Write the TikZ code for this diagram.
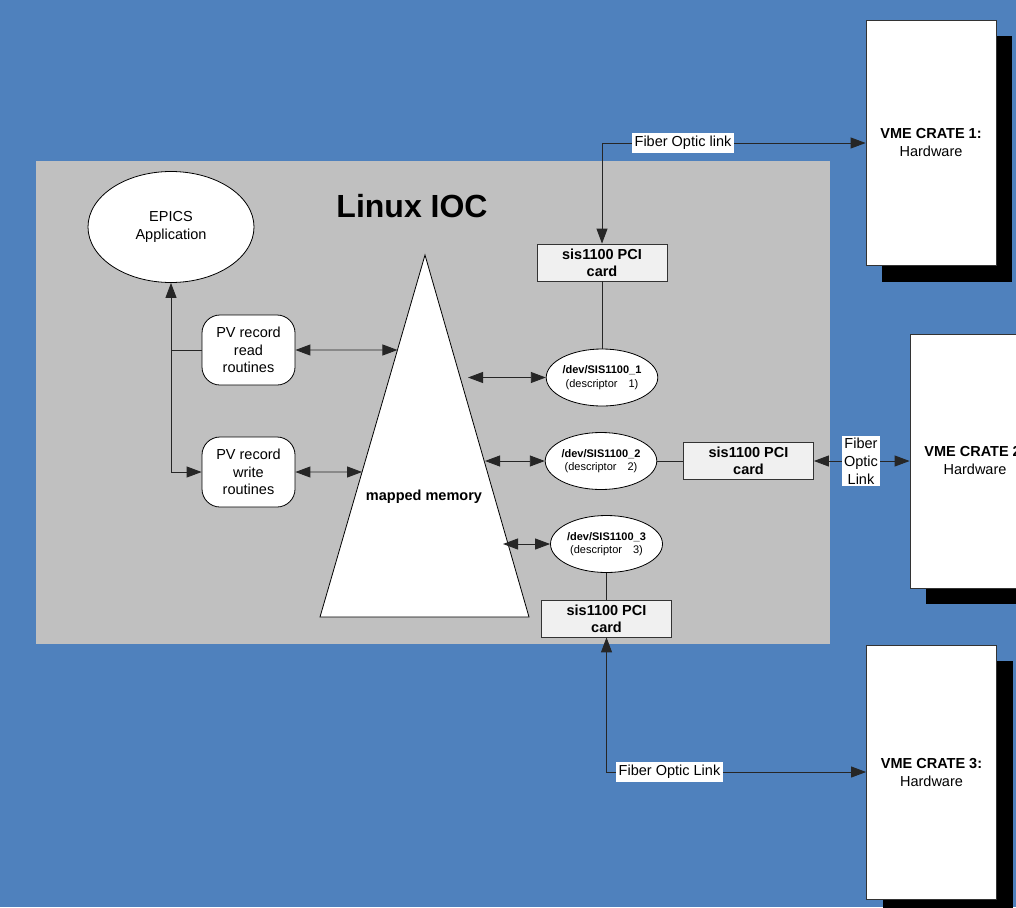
\documentclass[tikz,border=0pt]{standalone}
\usepackage{fontspec}
\setmainfont{Liberation Sans}
\usetikzlibrary{arrows.meta,shapes.geometric,shadows,calc}
\definecolor{bgblue}{HTML}{4F81BD}
\definecolor{iocgray}{HTML}{C0C0C0}
\definecolor{cardfill}{HTML}{F0F0F0}
\begin{document}
\begin{tikzpicture}[x=1pt,y=-1pt,
  txt/.style={font=\fontsize{14.5}{17.5}\selectfont, align=center},
  oval/.style={ellipse, draw=black, fill=white, line width=0.8pt, inner sep=0pt},
  pvbox/.style={draw=black, fill=white, rounded corners=18pt, minimum width=93pt, minimum height=70pt, txt, line width=0.8pt, inner sep=0pt},
  card/.style={draw=black!80, fill=cardfill, minimum width=130pt, minimum height=37pt, inner sep=0pt, font=\bfseries\fontsize{14.5}{16.7}\selectfont, align=center, line width=0.8pt},
  crate/.style={draw=black!80, fill=white, minimum width=130pt, inner sep=0pt, align=center, font=\fontsize{14.5}{18}\selectfont, drop shadow={shadow xshift=16pt, shadow yshift=-16pt, fill=black, opacity=1}, line width=0.8pt},
  lbl/.style={fill=white, inner xsep=2.5pt, inner ysep=3.5pt, font=\fontsize{14.5}{18}\selectfont, align=center},
  link/.style={line width=0.9pt, draw=black!85},
  tip/.tip={Triangle[length=15pt,width=11pt]},
  arr/.style={link, -tip},
  darr/.style={link, tip-tip},
  desc/.style={oval, minimum width=110pt, minimum height=57pt, align=center, font=\fontsize{11}{13.5}\selectfont}
]
\fill[bgblue] (0,0) rectangle (1016,907);
\useasboundingbox (0,0) rectangle (1016,907);
\clip (0,0) rectangle (1016,907);
\fill[iocgray] (36,161) rectangle (830,644);

\node[font=\bfseries\fontsize{32}{38}\selectfont] (title) at (412,206) {Linux IOC};

\node[oval, minimum width=166pt, minimum height=111pt, txt] (epics) at (171,227) {EPICS\\Application};
\node[pvbox] (pvr) at (248.5,350) {PV record\\read\\routines};
\node[pvbox] (pvw) at (248.5,472) {PV record\\write\\routines};

\coordinate (apex) at (425,255);
\coordinate (bl) at (320,617);
\coordinate (br) at (529,617);
\draw[fill=white, line width=0.8pt] (apex) -- (bl) -- (br) -- cycle;
\node[font=\bfseries\fontsize{14.5}{17}\selectfont] (mem) at (424,497) {mapped memory};

\coordinate (mL1) at ($(apex)!0.2624!(bl)$);
\coordinate (mL2) at ($(apex)!0.5994!(bl)$);
\coordinate (mR1) at (468,377.5);
\coordinate (mR2) at (485,461);
\coordinate (mR3) at (503,544);

\node[desc] (d1) at (602,377.5) {\textbf{/dev/SIS1100\_1}\\(descriptor\hspace{8pt} 1)};
\node[desc] (d2) at (601,461) {\textbf{/dev/SIS1100\_2}\\(descriptor\hspace{8pt} 2)};
\node[desc, minimum width=112pt] (d3) at (606.5,544) {\textbf{/dev/SIS1100\_3}\\(descriptor\hspace{8pt} 3)};

\node[card] (c1) at (602,262.5) {sis1100 PCI\\card};
\node[card] (c2) at (748.5,461) {sis1100 PCI\\card};
\node[card] (c3) at (606.5,618.5) {sis1100 PCI\\card};

\node[crate, minimum height=245pt] (v1) at (931,143) {\textbf{VME CRATE 1:}\\Hardware};
\node[crate, minimum height=254pt] (v2) at (975,461) {\textbf{VME CRATE 2:}\\Hardware};
\node[crate, minimum height=254pt] (v3) at (931.5,772) {\textbf{VME CRATE 3:}\\Hardware};

\coordinate (j1) at (171,350);
\coordinate (j2) at (171,472);
\draw[arr] (j2) -- (epics.south);
\draw[link] (pvr.west) -- (j1);
\draw[arr] (j2) -- (pvw.west);
\draw[darr] (pvr.east) -- (mL1);
\draw[darr] (pvw.east) -- (mL2);
\draw[darr] (mR1) -- (d1.west);
\draw[darr] (mR2) -- (d2.west);
\draw[darr] (mR3) -- (d3.west);
\draw[link] (c1.south) -- (d1.north);
\draw[link] (d2.east) -- (c2.west);
\draw[link] (d3.south) -- (c3.north);

\draw[darr] (c1.north) |- (v1.west);
\node[lbl] (l1) at (683,143) {Fiber Optic link};
\draw[darr] (c2.east) -- (v2.west);
\node[lbl, inner ysep=1.5pt] (l2) at (861,461) {Fiber\\Optic\\Link};
\draw[darr] (c3.south) |- (v3.west);
\node[lbl] (l3) at (669.5,772) {Fiber Optic Link};
\end{tikzpicture}
\end{document}
